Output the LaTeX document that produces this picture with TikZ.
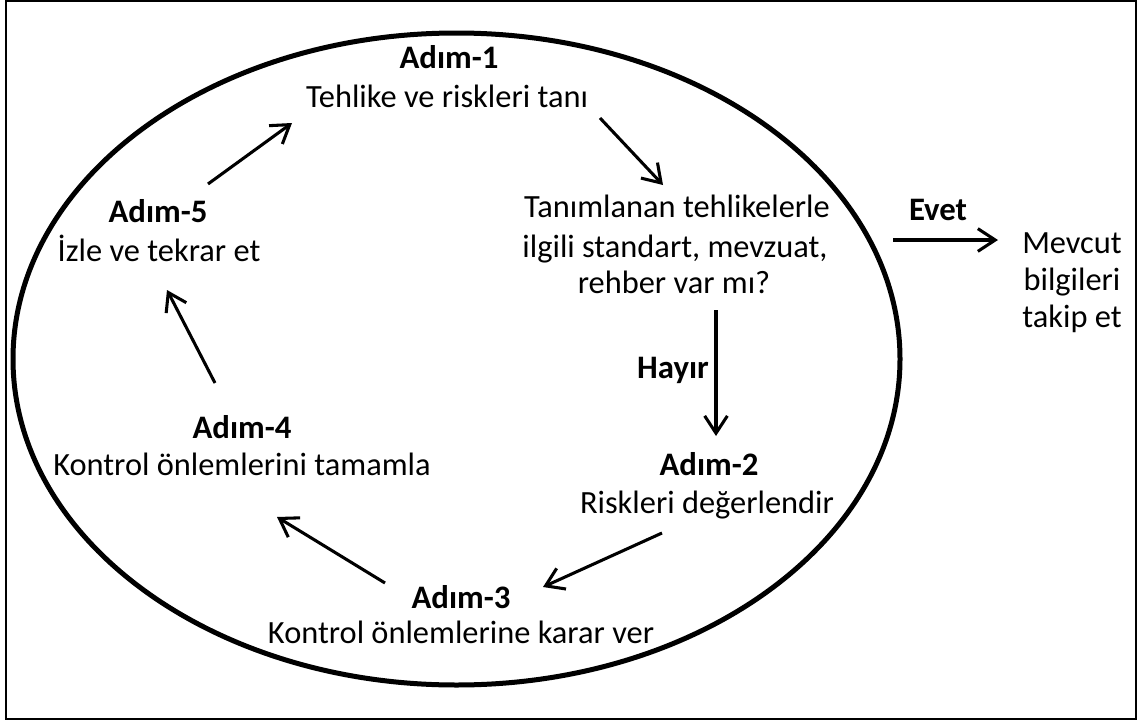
\documentclass[tikz,border=0pt]{standalone}
\usepackage{fontspec}
\setmainfont{Carlito}
\usetikzlibrary{arrows.meta}
\begin{document}
\begin{tikzpicture}[x=0.75pt,y=-0.75pt,
 txt/.style={anchor=base, inner sep=0pt, font=\fontsize{24.3pt}{29pt}\selectfont},
 hd/.style={anchor=base, inner sep=0pt, font=\fontsize{24.6pt}{29pt}\selectfont\bfseries},
 flow/.style={line width=2.3pt, -{Straight Barb[length=13pt,width=17pt]}},
 frame/.style={line width=1.5pt},
 cycle/.style={line width=3.75pt}
]
\useasboundingbox (0,0) rectangle (1138,721);
\draw[frame] (6,1) rectangle (1136,719);
\draw[cycle] (456.5,359) ellipse [x radius=443.5, y radius=326];

\node[hd] (h1) at (449,68) {Adım-1};
\node[txt] (t1) at (447,107) {Tehlike ve riskleri tanı};
\node[txt] (q1) at (677,217) {Tanımlanan tehlikelerle};
\node[txt] (q2) at (675,257) {ilgili standart, mevzuat,};
\node[txt] (q3) at (674,293) {rehber var mı?};
\node[hd] (hy) at (673,378) {Hayır};
\node[hd] (h2) at (709,475) {Adım-2};
\node[txt] (t2) at (707,513) {Riskleri değerlendir};
\node[hd] (h3) at (461,608) {Adım-3};
\node[txt] (t3) at (461,643) {Kontrol önlemlerine karar ver};
\node[hd] (h4) at (242,438) {Adım-4};
\node[txt] (t4) at (242,475) {Kontrol önlemlerini tamamla};
\node[hd] (h5) at (158,222) {Adım-5};
\node[txt] (t5) at (159,261) {İzle ve tekrar et};
\node[hd] (ev) at (938,220) {Evet};
\node[txt] (m1) at (1072,253) {Mevcut};
\node[txt] (m2) at (1072,290) {bilgileri};
\node[txt] (m3) at (1072,327) {takip et};

\coordinate (a1s) at (208,184); \coordinate (a1e) at (292,123);
\coordinate (a2s) at (600,118); \coordinate (a2e) at (663,185);
\coordinate (a3s) at (716,310); \coordinate (a3e) at (716,436);
\coordinate (a4s) at (662,533); \coordinate (a4e) at (543,587);
\coordinate (a5s) at (385,583); \coordinate (a5e) at (277,517);
\coordinate (a6s) at (215,383); \coordinate (a6e) at (167,290);
\coordinate (a7s) at (893,240); \coordinate (a7e) at (998,240);

\draw[flow] (a1s) -- (a1e);
\draw[flow] (a2s) -- (a2e);
\draw[flow] (a3s) -- (a3e);
\draw[flow] (a4s) -- (a4e);
\draw[flow] (a5s) -- (a5e);
\draw[flow] (a6s) -- (a6e);
\draw[flow] (a7s) -- (a7e);
\end{tikzpicture}
\end{document}
